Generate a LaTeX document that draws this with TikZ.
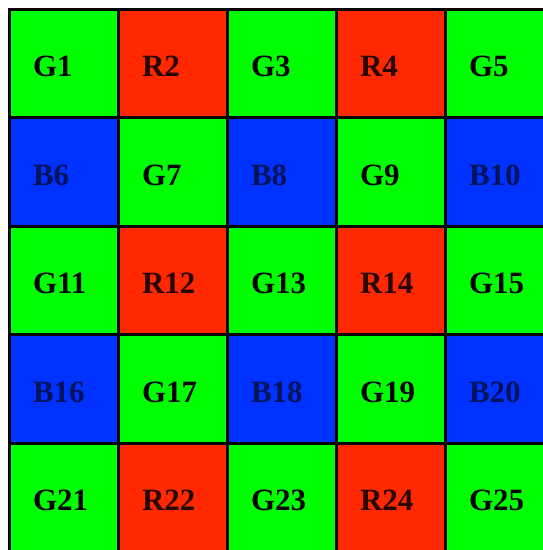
\documentclass[tikz,border=0pt]{standalone}
\usepackage{fontspec}
\setmainfont{Liberation Serif}
\usetikzlibrary{calc}
\definecolor{bayergreen}{RGB}{0,255,0}
\definecolor{bayerred}{RGB}{255,40,0}
\definecolor{bayerblue}{RGB}{0,50,255}

\begin{document}
\begin{tikzpicture}[x=1pt, y=1pt,
    cell/.style={draw=black, line width=3pt,
      minimum width=109pt, minimum height=108.5pt,
      text width=61pt, align=left, inner xsep=24pt, inner ysep=0pt,
      text height=27pt, text depth=0pt,
      font=\fontsize{31}{31}\selectfont\bfseries}]
  % page = 543 x 550, the grid runs off at right and bottom
  \clip (0,0) rectangle (543,-550);
  \coordinate (O) at (9,-9);

  % Bayer pattern: G R / B G
  \foreach \r in {0,...,4}{
    \foreach \c in {0,...,4}{
      \pgfmathtruncatemacro{\n}{5*\r+\c+1}
      \pgfmathtruncatemacro{\kind}{2*mod(\r,2)+mod(\c,2)}
      \ifcase\kind
        \def\col{bayergreen}\def\tcol{black}\def\ch{G}%
      \or
        \def\col{bayerred}\def\tcol{bayerred!15!black}\def\ch{R}%
      \or
        \def\col{bayerblue}\def\tcol{bayerblue!35!black}\def\ch{B}%
      \else
        \def\col{bayergreen}\def\tcol{black}\def\ch{G}%
      \fi
      \node[cell, fill=\col, text=\tcol] (cell\n)
        at ($(O)+(109*\c+54.5, -108.5*\r-54.25)$) {\ch\n};
    }
  }
\end{tikzpicture}
\end{document}
